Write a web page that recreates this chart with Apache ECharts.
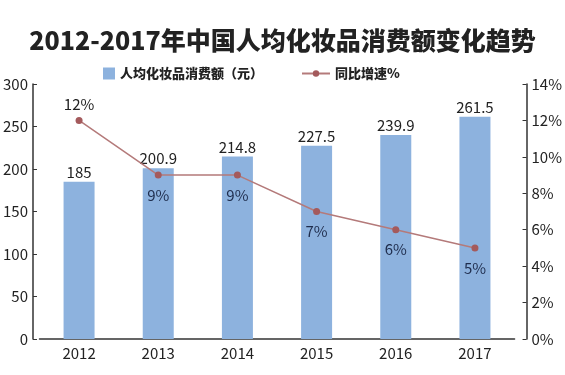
<!DOCTYPE html>
<html><head><meta charset="utf-8">
<script src="https://cdn.jsdelivr.net/npm/echarts@6/dist/echarts.min.js"></script>
<style>html,body{margin:0;padding:0;background:#fff}#c{width:565px;height:375px}</style>
</head><body><div id="c"></div>
<script>
const categories = ['2012','2013','2014','2015','2016','2017'];
const spending = [185, 200.9, 214.8, 227.5, 239.9, 261.5];
const growth = [12, 9, 9, 7, 6, 5];
const leftTicks = [0, 50, 100, 150, 200, 250, 300];
const rightTicks = ['0%','2%','4%','6%','8%','10%','12%','14%'];

const chart = echarts.init(document.getElementById('c'));
const font = '"Noto Sans CJK SC", "Noto Sans", sans-serif';
chart.setOption({
  animation: false,
  backgroundColor: '#fff',
  title: {
    text: '2012-2017年中国人均化妆品消费额变化趋势',
    left: 'center', top: 23,
    textStyle: { fontFamily: font, fontSize: 25, fontWeight: 900, color: '#222' }
  },
  legend: [
    { data: [{ name: '人均化妆品消费额（元）', icon: 'rect' }], left: 98, top: 62, itemWidth: 12, itemHeight: 12, itemGap: 6,
      textStyle: { fontFamily: font, fontSize: 13, fontWeight: 900, color: '#222' } },
    { data: ['同比增速%'], left: 296, top: 62, itemWidth: 28, itemHeight: 8,
      textStyle: { fontFamily: font, fontSize: 13, fontWeight: 900, color: '#222' } }
  ],
  grid: { left: 33.5, right: 40, top: 84, bottom: 36 },
  xAxis: {
    type: 'category', data: categories,
    axisLine: { lineStyle: { color: '#333', width: 1.5 } },
    axisTick: { show: false },
    axisLabel: { fontFamily: font, fontSize: 15, color: '#222', margin: 7 }
  },
  yAxis: [
    { type: 'value', min: 0, max: 300, interval: 50, offset: 6.5,
      axisLine: { show: true, lineStyle: { color: '#333', width: 1.5 } },
      axisTick: { show: true, inside: true, length: 4, lineStyle: { color: '#333' } },
      splitLine: { show: false },
      axisLabel: { fontFamily: font, fontSize: 15, color: '#222', margin: 5,
        formatter: v => leftTicks.includes(v) ? String(v) : '' } },
    { type: 'value', min: 0, max: 14, interval: 2, offset: 12, position: 'right',
      axisLine: { show: true, lineStyle: { color: '#333', width: 1.5 } },
      axisTick: { show: true, inside: true, length: 4, lineStyle: { color: '#333' } },
      splitLine: { show: false },
      axisLabel: { fontFamily: font, fontSize: 15, color: '#222', margin: 5,
        formatter: v => rightTicks[Math.round(v / 2)] } }
  ],
  series: [
    { name: '人均化妆品消费额（元）', type: 'bar', data: spending, barWidth: 31,
      itemStyle: { color: '#8DB2DE' },
      label: { show: true, position: 'top', distance: 2, fontFamily: font, fontSize: 15, color: '#222' } },
    { name: '同比增速%', type: 'line', yAxisIndex: 1,
      symbol: 'circle', symbolSize: 7,
      lineStyle: { color: '#B47A7A', width: 1.5 },
      itemStyle: { color: '#A45A5C' },
      label: { show: true, fontFamily: font, fontSize: 15, color: '#1f2d4d',
        formatter: p => p.value + '%',
        position: 'bottom', distance: 9 },
      data: growth.map((v, i) => i === 0
        ? { value: v, label: { position: 'top', distance: 5, color: '#222' } }
        : { value: v })
    }
  ]
});
</script></body></html>
